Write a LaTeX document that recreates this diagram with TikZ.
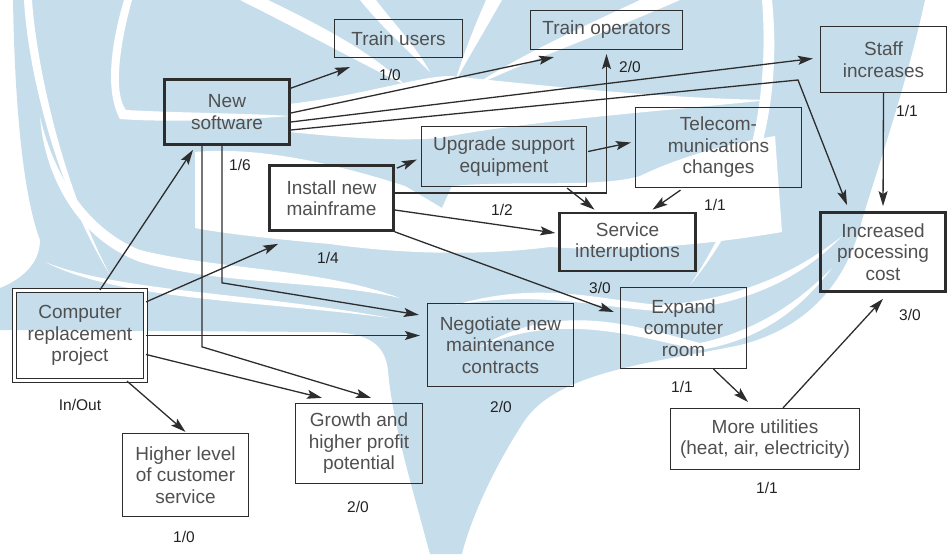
\documentclass[tikz,border=0pt]{standalone}
\usepackage{fontspec}
\setmainfont{Liberation Sans}
\usetikzlibrary{arrows.meta,calc}
\definecolor{wm}{RGB}{198,221,236}
\definecolor{edge}{RGB}{45,45,45}
\definecolor{boxtext}{RGB}{80,80,80}
\definecolor{labtext}{RGB}{35,35,35}
\begin{document}
\begin{tikzpicture}[x=1pt,y=-1pt,
  box/.style={draw=edge,line width=1.2pt,align=center,inner sep=0pt,text=boxtext,
    font=\fontsize{19}{21.5}\selectfont},
  heavy/.style={box,line width=2.7pt},
  dbl/.style={box,double=white,double distance=3.2pt},
  lab/.style={text=labtext,font=\fontsize{15.5}{18}\selectfont,inner sep=0pt},
  link/.style={draw=edge,line width=1.3pt,-{Stealth[length=15pt,width=9pt,inset=3pt]}},
  swoosh/.style={fill=white,draw=none}
]
\useasboundingbox (0,0) rectangle (949,554);

% ---- background emblem ----
\fill[wm] (13,0) -- (925,0) .. controls (905,90) and (880,160) .. (862,220)
  .. controls (845,290) and (800,330) .. (740,345)
  .. controls (660,362) and (560,370) .. (525,420)
  .. controls (495,465) and (470,520) .. (462,554) -- (430,554)
  .. controls (410,480) and (392,420) .. (388,370)
  .. controls (385,345) and (370,333) .. (330,332) -- (0,330) -- (0,288)
  .. controls (20,280) and (40,265) .. (40,240)
  .. controls (25,200) and (15,120) .. (13,0) -- cycle;
% left crescents
\fill[swoosh] (24,0) -- (32,0) .. controls (36,60) and (60,180) .. (110,275)
  .. controls (55,185) and (28,70) .. (24,0) -- cycle;
\fill[swoosh] (124,0) -- (132,0) .. controls (118,50) and (114,95) .. (126,110)
  .. controls (180,113) and (240,113) .. (290,116)
  .. controls (230,121) and (160,122) .. (120,119)
  .. controls (104,90) and (112,40) .. (124,0) -- cycle;
\fill[swoosh] (40,117) .. controls (45,180) and (80,240) .. (140,262)
  .. controls (220,285) and (320,280) .. (400,298)
  .. controls (320,268) and (220,270) .. (140,250)
  .. controls (90,230) and (55,180) .. (40,117) -- cycle;
\fill[swoosh] (45,262) .. controls (120,300) and (250,300) .. (390,318)
  .. controls (250,292) and (120,292) .. (45,262) -- cycle;
% upper rays
\fill[swoosh] (240,0) -- (268,0) .. controls (330,30) and (375,55) .. (405,85)
  .. controls (355,60) and (300,30) .. (240,0) -- cycle;
\fill[swoosh] (360,0) -- (376,0) .. controls (395,25) and (415,45) .. (430,72)
  .. controls (405,48) and (380,25) .. (360,0) -- cycle;
\fill[swoosh] (486,0) -- (502,0) .. controls (485,30) and (470,55) .. (455,82)
  .. controls (463,55) and (475,25) .. (486,0) -- cycle;
\fill[swoosh] (640,0) -- (680,0) .. controls (600,35) and (530,60) .. (470,88)
  .. controls (520,55) and (580,28) .. (640,0) -- cycle;
% horizontal band
\fill[swoosh] (289,104) .. controls (360,96) and (420,76) .. (450,76)
  .. controls (530,84) and (650,98) .. (770,100)
  .. controls (650,112) and (520,122) .. (440,138)
  .. controls (390,142) and (330,136) .. (289,132) -- cycle;
% middle clearing
\fill[swoosh] (195,152) .. controls (260,146) and (340,165) .. (405,186) -- (442,208)
  -- (452,186) .. controls (520,180) and (600,188) .. (640,176)
  .. controls (690,152) and (740,142) .. (775,136) -- (782,232)
  .. controls (700,246) and (620,252) .. (550,247)
  .. controls (480,256) and (400,254) .. (330,244)
  .. controls (260,238) and (215,232) .. (195,228) -- cycle;
% right crescents
\fill[swoosh] (762,0) -- (772,0) .. controls (782,100) and (760,200) .. (690,285)
  .. controls (748,200) and (770,100) .. (762,0) -- cycle;
\fill[swoosh] (478,348) .. controls (560,298) and (640,328) .. (700,343)
  .. controls (760,330) and (800,300) .. (832,268)
  .. controls (800,310) and (760,340) .. (700,350)
  .. controls (640,338) and (560,310) .. (478,348) -- cycle;
\fill[swoosh] (455,305) .. controls (540,280) and (600,300) .. (660,305)
  .. controls (740,300) and (800,270) .. (842,236)
  .. controls (800,280) and (740,308) .. (660,311)
  .. controls (600,308) and (540,290) .. (455,305) -- cycle;

% ---- boxes ----
\node[box] (tu) at (398.5,38.5) [minimum width=128pt,minimum height=38pt] {Train users};
\node[box] (to) at (606.5,30) [minimum width=152pt,minimum height=39pt] {Train operators};
\node[box] (si) at (883.5,59.5) [minimum width=126pt,minimum height=66pt] {Staff\\increases};
\node[heavy] (ns) at (227,112) [minimum width=125pt,minimum height=65pt] {New\\software};
\node[heavy] (inm) at (331.5,198) [minimum width=124pt,minimum height=65pt] {Install new\\mainframe};
\node[box] (use) at (504,156.5) [minimum width=165pt,minimum height=60pt] {Upgrade support\\equipment};
\node[box] (tc) at (718.5,147.5) [minimum width=166pt,minimum height=80pt] {Telecom-\\munications\\changes};
\node[heavy] (sv) at (627.5,242) [minimum width=136pt,minimum height=58pt] {Service\\interruptions};
\node[heavy] (ipc) at (883,252) [minimum width=125pt,minimum height=79pt] {Increased\\processing\\cost};
\node[dbl] (crp) at (80,335.5) [minimum width=131pt,minimum height=90pt] {Computer\\replacement\\project};
\node[box] (nmc) at (500.5,345) [minimum width=146pt,minimum height=83pt] {Negotiate new\\maintenance\\contracts};
\node[box] (ecr) at (683.5,328) [minimum width=126pt,minimum height=81pt] {Expand\\computer\\room};
\node[box] (mu) at (765,439) [minimum width=189pt,minimum height=61pt] {More utilities\\(heat, air, electricity)};
\node[box] (gh) at (359,443.5) [minimum width=127pt,minimum height=80pt] {Growth and\\higher profit\\potential};
\node[box] (hl) at (185.5,475) [minimum width=126pt,minimum height=83pt] {Higher level\\of customer\\service};

% ---- in/out counts ----
\node[lab] (ltu) at (390,75) {1/0};
\node[lab] (lto) at (630,67) {2/0};
\node[lab] (lsi) at (907,111) {1/1};
\node[lab] (lns) at (240,165) {1/6};
\node[lab] (linm) at (328,258) {1/4};
\node[lab] (luse) at (502,210) {1/2};
\node[lab] (ltc) at (715,205) {1/1};
\node[lab] (lsv) at (600,288) {3/0};
\node[lab] (lipc) at (910,315) {3/0};
\node[lab] (lcrp) at (80,405) {In/Out};
\node[lab] (lnmc) at (501,407) {2/0};
\node[lab] (lecr) at (682,387) {1/1};
\node[lab] (lmu) at (767,488) {1/1};
\node[lab] (lgh) at (358,507) {2/0};
\node[lab] (lhl) at (184,537) {1/0};

% ---- connectors ----
\coordinate (bendA) at (798,80);
\draw[link] ($(crp.north)+(20,0)$) -- ($(ns.south)+(-34,4)$);
\draw[link] ($(crp.north east)+(0,12)$) -- ($(inm.south west)+(10,12)$);
\draw[link,shorten >=7pt] (crp.east) -- (crp.east -| nmc.west);
\draw[link] ($(crp.east)+(0,19)$) -- ($(gh.north)+(-37,-5)$);
\draw[link] ($(crp.south)+(47,0)$) -- ($(hl.north)+(0,-1)$);
\draw[link] ($(ns.north east)+(0,10)$) -- ($(tu.south west)+(16,9)$);
\draw[link] ($(ns.east)+(0,1)$) -- ($(to.south west)+(24,7)$);
\draw[link] ($(ns.east)+(0,10)$) -- ($(si.west)+(-7,-1)$);
\draw[link] ($(ns.east)+(0,18)$) -- (bendA) -- ($(ipc.north)+(-36,-6)$);
\draw[link,shorten >=5pt] (si.south) -- (ipc.north);
\draw[link] ($(ns.south)+(-25,0)$) -- ++(0,201) -- ($(gh.north)+(12,-5)$);
\draw[link] ($(ns.south)+(-5,0)$) -- ++(0,137) -- ($(nmc.north west)+(-8,12)$);
\draw[link] ($(inm.north east)+(2,4)$) -- ($(use.west)+(-4,3)$);
\draw[link] ($(inm.east)+(0,-5)$) -| ($(to.south)+(0,4)$);
\draw[link] ($(inm.east)+(0,12)$) -- ($(sv.west)+(-3,-9)$);
\draw[link] (inm.south east) -- ($(ecr.west)+(-6,-16)$);
\draw[link] ($(use.south east)+(-20,1)$) -- ($(sv.north)+(-33,-2)$);
\draw[link] ($(use.east)+(1,-5)$) -- ($(tc.west)+(-4,-5)$);
\draw[link] ($(tc.south)+(-38,2)$) -- ($(sv.north)+(25,-2)$);
\draw[link] ($(ecr.south)+(30,0)$) -- ($(mu.north)+(-17,-6)$);
\draw[link] ($(mu.north)+(18,0)$) -- ($(ipc.south)+(0,6)$);
\end{tikzpicture}
\end{document}
